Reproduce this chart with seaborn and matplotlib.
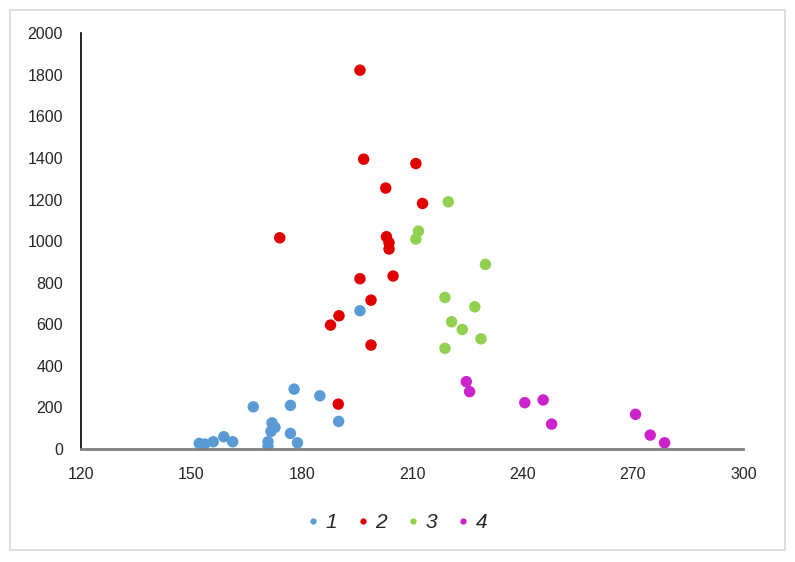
import numpy as np
import pandas as pd
import matplotlib
matplotlib.use("Agg")
import matplotlib.pyplot as plt
from matplotlib.patches import Rectangle
import seaborn as sns

# Values
g1_x = [152.1, 153.6, 155.9, 158.8, 161.2, 166.8, 170.8, 170.8, 171.9, 172.7,
        171.6, 176.9, 176.9, 177.9, 178.8, 184.9, 190.0, 195.8]
g1_y = [27, 24, 35, 59, 35, 203, 35, 11, 126, 104,
        85, 75, 210, 288, 30, 256, 133, 665]

g2_x = [189.9, 198.8, 187.8, 190.1, 198.8, 195.8, 196.8, 211.0, 202.8, 212.8,
        174.0, 203.0, 203.7, 203.7, 195.8, 204.8]
g2_y = [216, 500, 596, 641, 716, 1822, 1394, 1373, 1255, 1181,
        1016, 1021, 992, 962, 819, 832]

g3_x = [219.8, 211.7, 211.0, 229.9, 218.9, 227.0, 220.7, 223.6, 228.7, 218.9]
g3_y = [1189, 1048, 1010, 888, 729, 684, 612, 575, 530, 484]

g4_x = [224.7, 225.6, 240.6, 245.6, 247.9, 270.7, 274.7, 278.6]
g4_y = [324, 276, 223, 236, 120, 167, 67, 30]

groups = ["1", "2", "3", "4"]
palette = {"1": "#5B9BD5", "2": "#E00000", "3": "#92D050", "4": "#CC22CC"}

df = pd.concat([
    pd.DataFrame({"x": xs, "y": ys, "group": g})
    for g, xs, ys in zip(groups, [g1_x, g2_x, g3_x, g4_x], [g1_y, g2_y, g3_y, g4_y])
])

sns.set_style("white")
plt.rcParams["font.family"] = ["Liberation Sans", "DejaVu Sans"]

fig = plt.figure(figsize=(7.95, 5.62), dpi=100)
ax = fig.add_axes([0.102, 0.201, 0.833, 0.740])

sns.scatterplot(data=df, x="x", y="y", hue="group", palette=palette,
                s=68, edgecolor="none", ax=ax, legend=True)

ax.set_xlim(120, 300)
ax.set_ylim(0, 2000)
ax.set_xticks(np.arange(120, 301, 30))
ax.set_yticks(np.arange(0, 2001, 200))
ax.set_xlabel("")
ax.set_ylabel("")

for side in ["top", "right"]:
    ax.spines[side].set_visible(False)
ax.spines["left"].set_color("black")
ax.spines["left"].set_linewidth(1.2)
ax.spines["bottom"].set_color("#808080")
ax.spines["bottom"].set_linewidth(2.0)
ax.tick_params(axis="both", direction="out", length=5, width=1,
               labelsize=11.5, colors="black", labelcolor="#262626", pad=8)
ax.tick_params(axis="x", length=4, pad=9)

handles, labels = ax.get_legend_handles_labels()
ax.legend(handles, labels, loc="center", bbox_to_anchor=(0.478, -0.177),
          ncol=4, frameon=False, markerscale=0.55, handlelength=0.5,
          handletextpad=0.35, columnspacing=1.0,
          prop={"size": 15, "style": "italic"})

# light frame around the chart area
fig.patches.append(Rectangle((0.012, 0.022), 0.976, 0.96, transform=fig.transFigure,
                             fill=False, edgecolor="#D9D9D9", linewidth=1.2))

fig.savefig("out.png", dpi=100)
